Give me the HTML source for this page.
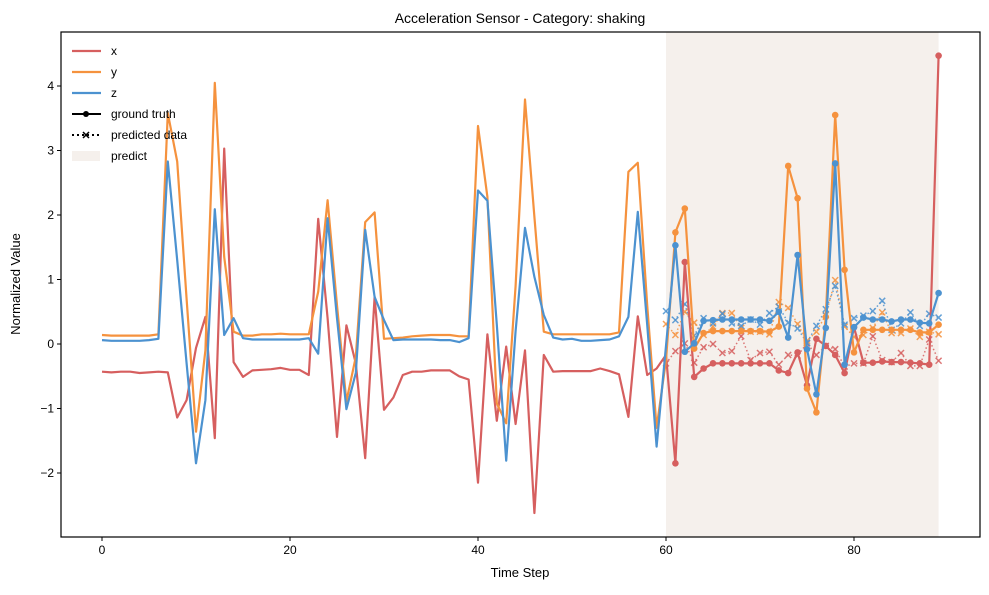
<!DOCTYPE html>
<html><head><meta charset="utf-8"><style>
body{margin:0;background:#fff;font-family:"Liberation Sans",sans-serif}
svg text{font-family:"Liberation Sans",sans-serif}
</style></head><body>
<svg id="chart" width="989" height="590" xmlns="http://www.w3.org/2000/svg">
<text x="520" y="23" font-size="14" text-anchor="middle">Acceleration Sensor - Category: shaking</text>
<text x="520" y="577" font-size="13" text-anchor="middle">Time Step</text>
<text transform="translate(20,284) rotate(-90)" font-size="13" text-anchor="middle">Normalized Value</text>
<g id="plot"></g>
</svg>
<script>
const xs = [-0.43,-0.44,-0.43,-0.43,-0.45,-0.44,-0.43,-0.44,-1.14,-0.87,-0.06,0.42,-1.46,3.03,-0.28,-0.51,-0.41,-0.40,-0.39,-0.37,-0.40,-0.40,-0.48,1.94,0.4,-1.44,0.29,-0.3,-1.77,0.73,-1.02,-0.83,-0.48,-0.43,-0.43,-0.41,-0.41,-0.41,-0.50,-0.55,-2.15,0.15,-1.19,-0.04,-1.24,-0.1,-2.62,-0.17,-0.43,-0.42,-0.42,-0.42,-0.42,-0.38,-0.42,-0.47,-1.13,0.43,-0.48,-0.38,-0.17,-1.85,1.27,-0.51,-0.38,-0.30,-0.30,-0.30,-0.30,-0.30,-0.30,-0.30,-0.41,-0.45,-0.13,-0.64,0.08,-0.03,-0.17,-0.45,0.26,-0.29,-0.29,-0.27,-0.28,-0.28,-0.29,-0.30,-0.32,4.47];
const ys = [0.14,0.13,0.13,0.13,0.13,0.13,0.15,3.58,2.83,0.7,-1.36,-0.1,4.05,1.35,0.19,0.13,0.13,0.15,0.15,0.16,0.15,0.15,0.15,0.81,2.23,0.6,-0.89,-0.2,1.89,2.04,0.08,0.09,0.10,0.12,0.13,0.14,0.14,0.14,0.12,0.12,3.38,2.28,-0.92,-1.23,0.9,3.79,1.97,0.19,0.15,0.15,0.15,0.15,0.15,0.15,0.15,0.18,2.67,2.81,0.6,-1.3,-0.25,1.73,2.10,-0.07,0.17,0.2,0.2,0.2,0.2,0.2,0.2,0.19,0.27,2.76,2.26,-0.69,-1.06,0.42,3.55,1.15,-0.13,0.22,0.22,0.22,0.22,0.22,0.22,0.18,0.18,0.30];
const zs = [0.06,0.05,0.05,0.05,0.05,0.06,0.08,2.83,1.3,-0.3,-1.85,-0.87,2.09,0.14,0.4,0.09,0.07,0.07,0.07,0.07,0.07,0.07,0.09,-0.15,1.95,0.4,-1.01,-0.45,1.77,0.73,0.37,0.06,0.07,0.07,0.07,0.07,0.06,0.06,0.03,0.09,2.38,2.22,0.3,-1.81,0.2,1.80,1.04,0.45,0.1,0.07,0.08,0.05,0.05,0.06,0.07,0.12,0.42,2.05,0.3,-1.59,-0.03,1.53,-0.12,0.01,0.36,0.37,0.38,0.38,0.38,0.38,0.38,0.36,0.5,0.10,1.38,-0.08,-0.78,0.25,2.80,-0.32,0.26,0.41,0.38,0.38,0.35,0.38,0.38,0.33,0.32,0.79];
const predX = [-0.30,-0.11,0.01,-0.29,-0.05,0.00,-0.14,-0.11,0.12,-0.25,-0.14,-0.12,-0.32,-0.17,-0.18,0.01,-0.17,-0.03,-0.08,-0.35,-0.3,-0.30,0.12,-0.25,-0.28,-0.14,-0.34,-0.34,0.07,-0.26];
const predY = [0.31,0.14,0.50,0.33,0.14,0.27,0.48,0.48,0.25,0.19,0.19,0.15,0.65,0.56,0.31,0.05,0.19,0.45,0.99,0.27,0.11,0.14,0.25,0.49,0.17,0.17,0.24,0.11,0.19,0.15];
const predZ = [0.51,0.37,0.62,0.13,0.4,0.32,0.47,0.32,0.28,0.38,0.30,0.48,0.58,0.33,0.24,0.02,0.28,0.54,0.9,0.30,0.40,0.44,0.51,0.67,0.22,0.32,0.49,0.28,0.47,0.41];
const xTicks = [0,20,40,60,80];
const yTicks = [-2,-1,0,1,2,3,4];
const predStart = 60, predEnd = 89;

const L=61,R=980,T=32,B=537;
const sx = v => 102 + v*9.4;
const sy = v => 344 - v*64.5;
const NS="http://www.w3.org/2000/svg";
const g=document.getElementById('plot');
function mk(tag,attrs,parent){const e=document.createElementNS(NS,tag);for(const k in attrs)e.setAttribute(k,attrs[k]);(parent||g).appendChild(e);return e;}

const span=mk('rect',{x:sx(predStart),y:T,width:sx(predEnd)-sx(predStart),height:B-T,fill:'#f5f0ec'});



const cols={x:'#d65f5f',y:'#f5923e',z:'#4c92d0'};
function path(arr,off){return arr.map((v,i)=>(i?'L':'M')+sx(i+off).toFixed(1)+' '+sy(v).toFixed(1)).join(' ');}

[['x',predX],['y',predY],['z',predZ]].forEach(([k,arr])=>{
  const p=mk('path',{d:path(arr,predStart),fill:'none',stroke:cols[k],'stroke-width':1.5,'stroke-dasharray':'1.5 2.5',opacity:0.85});
  
  
  arr.forEach((v,i)=>{
    const cx=sx(i+predStart),cy=sy(v);
    const m=mk('path',{d:`M${cx-3} ${cy-3}L${cx+3} ${cy+3}M${cx-3} ${cy+3}L${cx+3} ${cy-3}`,stroke:cols[k],'stroke-width':1.5,opacity:0.85});
    
    
  });
});
[['x',xs],['y',ys],['z',zs]].forEach(([k,arr])=>{
  const p=mk('path',{d:path(arr,0),fill:'none',stroke:cols[k],'stroke-width':2.2,'stroke-linejoin':'round'});
  
  
  arr.forEach((v,i)=>{
    if(i<=predStart) return;
    const c=mk('circle',{cx:sx(i),cy:sy(v),r:3.3,fill:cols[k]});
    
    
  });
});
const fr=mk('rect',{x:L,y:T,width:R-L,height:B-T,fill:'none',stroke:'#000','stroke-width':1.2});


xTicks.forEach(t=>{
  const l=mk('line',{x1:sx(t),x2:sx(t),y1:B,y2:B+4,stroke:'#000'});
  
  
  const tx=mk('text',{x:sx(t),y:B+17,'font-size':12,'text-anchor':'middle'});tx.textContent=t;
  
  
});
yTicks.forEach(t=>{
  const l=mk('line',{x1:L-4,x2:L,y1:sy(t),y2:sy(t),stroke:'#000'});
  
  
  const tx=mk('text',{x:L-7,y:sy(t)+4,'font-size':12,'text-anchor':'end'});tx.textContent=(t<0?'\u2212'+(-t):t);
  
  
});
const lg=mk('g',{});


const items=[['x','x'],['y','y'],['z','z'],['ground truth','gt'],['predicted data','pd'],['predict','pr']];
items.forEach(([lab,k],i)=>{
  const y=51+i*21;
  if(cols[k]) mk('line',{x1:72,x2:101,y1:y,y2:y,stroke:cols[k],'stroke-width':2.2},lg);
  else if(k==='gt'){mk('line',{x1:72,x2:101,y1:y,y2:y,stroke:'#000','stroke-width':2},lg);mk('circle',{cx:86,cy:y,r:3,fill:'#000'},lg);}
  else if(k==='pd'){mk('line',{x1:72,x2:101,y1:y,y2:y,stroke:'#000','stroke-width':2,'stroke-dasharray':'2 3'},lg);mk('path',{d:`M83 ${y-3}L89 ${y+3}M83 ${y+3}L89 ${y-3}`,stroke:'#000','stroke-width':1.5},lg);}
  else mk('rect',{x:72,y:y-5,width:28,height:10,fill:'#f5f0ec'},lg);
  const t=mk('text',{x:111,y:y+4,'font-size':12},lg);t.textContent=lab;
  
  
});
</script>
</body></html>
